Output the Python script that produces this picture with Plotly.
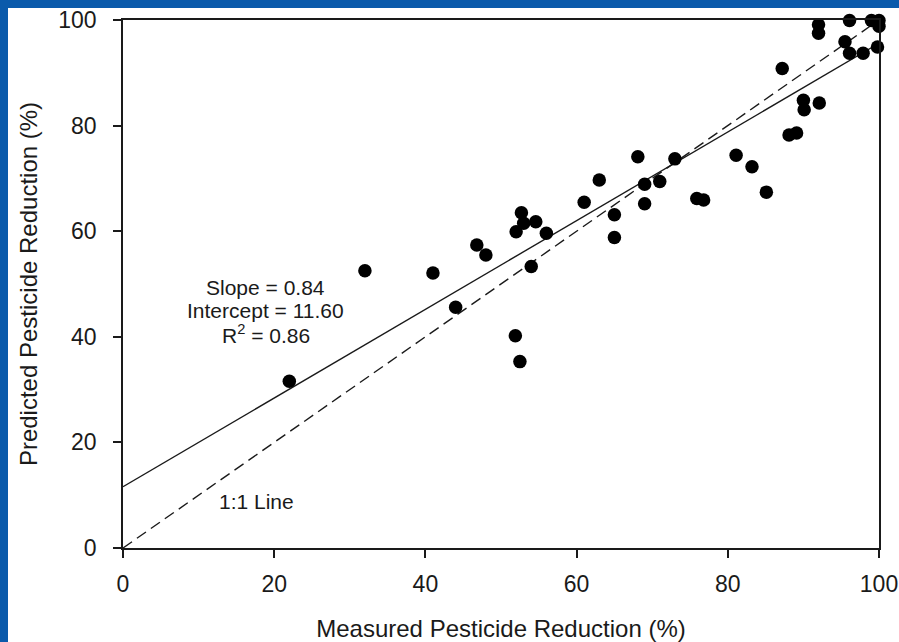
import plotly.graph_objects as go

# Measured (x) vs predicted (y) pesticide reduction, %
measured = [22.0, 32.0, 41.0, 44.0, 46.8, 48.0, 51.9, 52.5, 54.0, 52.7, 53.0, 52.0,
            54.6, 56.0, 61.0, 63.0, 65.0, 65.0, 68.1, 69.0, 69.0, 71.0, 73.0, 75.9,
            76.8, 81.1, 83.2, 85.1, 87.2, 88.1, 89.1, 90.0, 90.1, 92.1, 92.0, 92.0,
            96.1, 95.5, 96.1, 97.9, 99.8, 99.0, 100.0, 100.0]
predicted = [31.6, 52.5, 52.1, 45.6, 57.4, 55.5, 40.2, 35.3, 53.3, 63.5, 61.5, 59.9,
             61.8, 59.6, 65.5, 69.7, 63.1, 58.8, 74.1, 68.9, 65.2, 69.4, 73.7, 66.2,
             65.9, 74.4, 72.2, 67.4, 90.8, 78.2, 78.6, 84.8, 83.0, 84.3, 99.1, 97.5,
             99.9, 95.9, 93.7, 93.7, 94.9, 99.9, 99.9, 98.8]

SLOPE = 0.84
INTERCEPT = 11.60
R2 = 0.86
line_x = [0, 100]
fit_y = [SLOPE * v + INTERCEPT for v in line_x]
one_to_one_y = list(line_x)

x_ticks = [0, 20, 40, 60, 80, 100]
y_ticks = [0, 20, 40, 60, 80, 100]

FONT = "Arial, Liberation Sans, sans-serif"
INK = "#1a1a1a"
BLUE = "#0a5aab"

fig = go.Figure()
fig.add_trace(go.Scatter(x=line_x, y=fit_y, mode="lines",
                         line=dict(color=INK, width=1.4), hoverinfo="skip",
                         showlegend=False, cliponaxis=False))
fig.add_trace(go.Scatter(x=line_x, y=one_to_one_y, mode="lines",
                         line=dict(color=INK, width=1.4, dash="11px,6px"),
                         hoverinfo="skip", showlegend=False, cliponaxis=False))
fig.add_trace(go.Scatter(x=measured, y=predicted, mode="markers",
                         marker=dict(color="black", size=13.5, line=dict(width=0)),
                         showlegend=False, cliponaxis=False))

# plot area in pixels: x 123..879, y 20..548
L, R, T, B = 123, 879, 20, 548
W, H = 899, 642
def px_x(p):
    return (p - L) / (R - L)
def px_y(p):
    return (B - p) / (B - T)

fig.add_shape(type="rect", xref="paper", yref="paper", layer="below",
              x0=px_x(8), x1=px_x(W + 5), y0=px_y(H + 5), y1=px_y(8),
              fillcolor="white", line=dict(width=0))

ann_font = dict(family=FONT, size=21, color=INK)
fig.add_annotation(x=18.9, y=49.4, text=f"Slope = {SLOPE:.2f}", showarrow=False,
                   font=ann_font, xanchor="center", yanchor="middle")
fig.add_annotation(x=18.9, y=45.0, text=f"Intercept = {INTERCEPT:.2f}", showarrow=False,
                   font=ann_font, xanchor="center", yanchor="middle")
fig.add_annotation(x=18.9, y=40.6, text=f"R<sup>2</sup> = {R2:.2f}", showarrow=False,
                   font=ann_font, xanchor="center", yanchor="middle")
fig.add_annotation(x=17.7, y=8.9, text="1:1 Line", showarrow=False,
                   font=ann_font, xanchor="center", yanchor="middle")

axis_common = dict(range=[0, 100], showgrid=False, zeroline=False, automargin=False,
                   showline=True, linecolor=INK, linewidth=1.5, mirror=True,
                   ticks="outside", ticklen=8, tickwidth=1.5, tickcolor=INK,
                   tickfont=dict(family=FONT, size=23, color=INK))

fig.update_xaxes(**axis_common, tickvals=x_ticks, ticktext=[str(v) for v in x_ticks],
                 ticklabelstandoff=7,
                 title=dict(text="Measured Pesticide Reduction (%)",
                            font=dict(family=FONT, size=24, color=INK), standoff=30))
fig.update_yaxes(**axis_common, tickvals=y_ticks, ticktext=[str(v) for v in y_ticks],
                 ticklabelstandoff=12,
                 title=dict(text="Predicted Pesticide Reduction (%)",
                            font=dict(family=FONT, size=24, color=INK), standoff=14))

fig.update_layout(width=W, height=H, autosize=False,
                  margin=dict(l=L, r=W - R, t=T, b=H - B, pad=0, autoexpand=False),
                  paper_bgcolor=BLUE, plot_bgcolor="white",
                  font=dict(family=FONT, color=INK))

fig.write_html("out.html")
